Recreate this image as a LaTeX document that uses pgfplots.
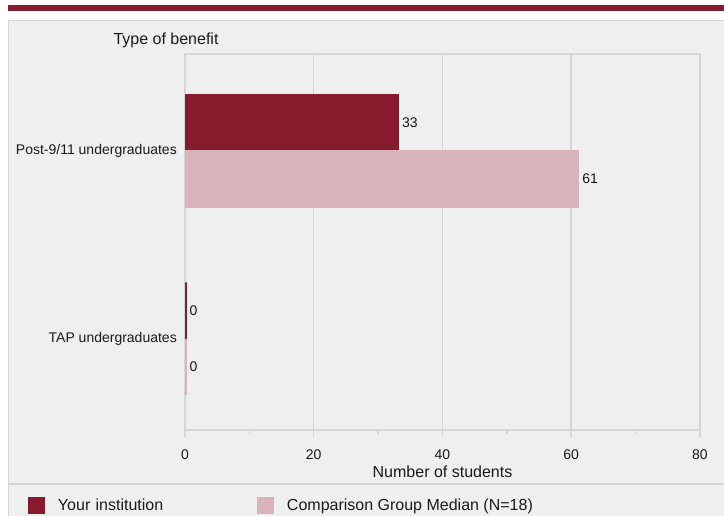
\documentclass[border=0pt]{standalone}
\usepackage{pgfplots}
\pgfplotsset{compat=1.18}
\usepackage{fontspec}
\setmainfont{Liberation Sans}
\definecolor{instred}{HTML}{861B2D}
\definecolor{cmppink}{HTML}{D8B3B9}
\definecolor{panel}{HTML}{EFEFEF}
\definecolor{gridc}{HTML}{D6D6D6}
\definecolor{txt}{HTML}{1A1A1A}
\begin{document}
\begin{tikzpicture}
\path[use as bounding box] (0pt,0pt) rectangle (724pt,-516pt);
\fill[white] (0pt,0pt) rectangle (724pt,-516pt);
\fill[instred] (8pt,-5.5pt) rectangle (724pt,-11pt);
\fill[panel] (8pt,-20pt) rectangle (724pt,-516pt);
\draw[gridc, line width=1.2pt] (8.6pt,-516pt) -- (8.6pt,-20.6pt) -- (724pt,-20.6pt);
\draw[gridc, line width=1.2pt] (8pt,-484pt) -- (724pt,-484pt);
\node[font=\fontsize{16}{19}\selectfont, text=txt, anchor=center] at (166pt,-40pt) {Type of benefit};
\begin{axis}[
  at={(185pt,-430pt)}, anchor=south west,
  scale only axis, width=515pt, height=376pt,
  xbar, xmin=0, xmax=80,
  ymin=-0.515, ymax=1.485, y dir=reverse,
  ytick={0,1}, yticklabels={Post-9/11 undergraduates, TAP undergraduates},
  xtick={0,20,40,60,80}, minor xtick={10,30,50,70},
  /pgf/number format/assume math mode=true,
  xmajorgrids, major grid style={gridc, line width=1.5pt},
  axis line style={gridc, line width=1.5pt},
  tick align=outside, xtick pos=bottom, ytick pos=left,
  major tick length=7pt, minor tick length=4pt,
  xtick style={gridc, line width=1.5pt},
  ytick style={draw=none},
  xticklabel style={font=\fontsize{14}{16}\selectfont, text=txt, yshift=-9pt},
  yticklabel style={font=\fontsize{14}{16}\selectfont, text=txt, inner sep=0pt, xshift=-1pt},
  xlabel={Number of students},
  xlabel style={font=\fontsize{16}{19}\selectfont, text=txt, at={(axis description cs:0.5,0)}, anchor=center, yshift=-42pt},
  bar width=0.3,
  nodes near coords,
  nodes near coords style={anchor=west, font=\fontsize{14}{16}\selectfont, text=txt, inner sep=0pt, xshift=3pt},
  legend columns=2,
  legend style={draw=none, fill=none, inner sep=0pt, outer sep=0pt,
    at={(-0.30485,-0.19947)}, anchor=west,
    font=\fontsize{16}{19}\selectfont, text=txt,
    nodes={inner sep=0pt},
    /tikz/every odd column/.append style={column sep=13pt},
    /tikz/column 2/.append style={text width=199pt}},
  legend image code/.code={\fill[#1, draw=none] (0pt,-8.5pt) rectangle (17pt,8.5pt);},
]
\addplot[fill=instred, draw=instred, line width=1.6pt, xshift=0.8pt, bar shift=-0.15] coordinates {(33,0) (0,1)};
\addplot[fill=cmppink, draw=cmppink, line width=1.6pt, xshift=0.8pt, bar shift=0.15] coordinates {(61,0) (0,1)};
\legend{Your institution, Comparison Group Median (N=18)}
\end{axis}
\end{tikzpicture}
\end{document}
